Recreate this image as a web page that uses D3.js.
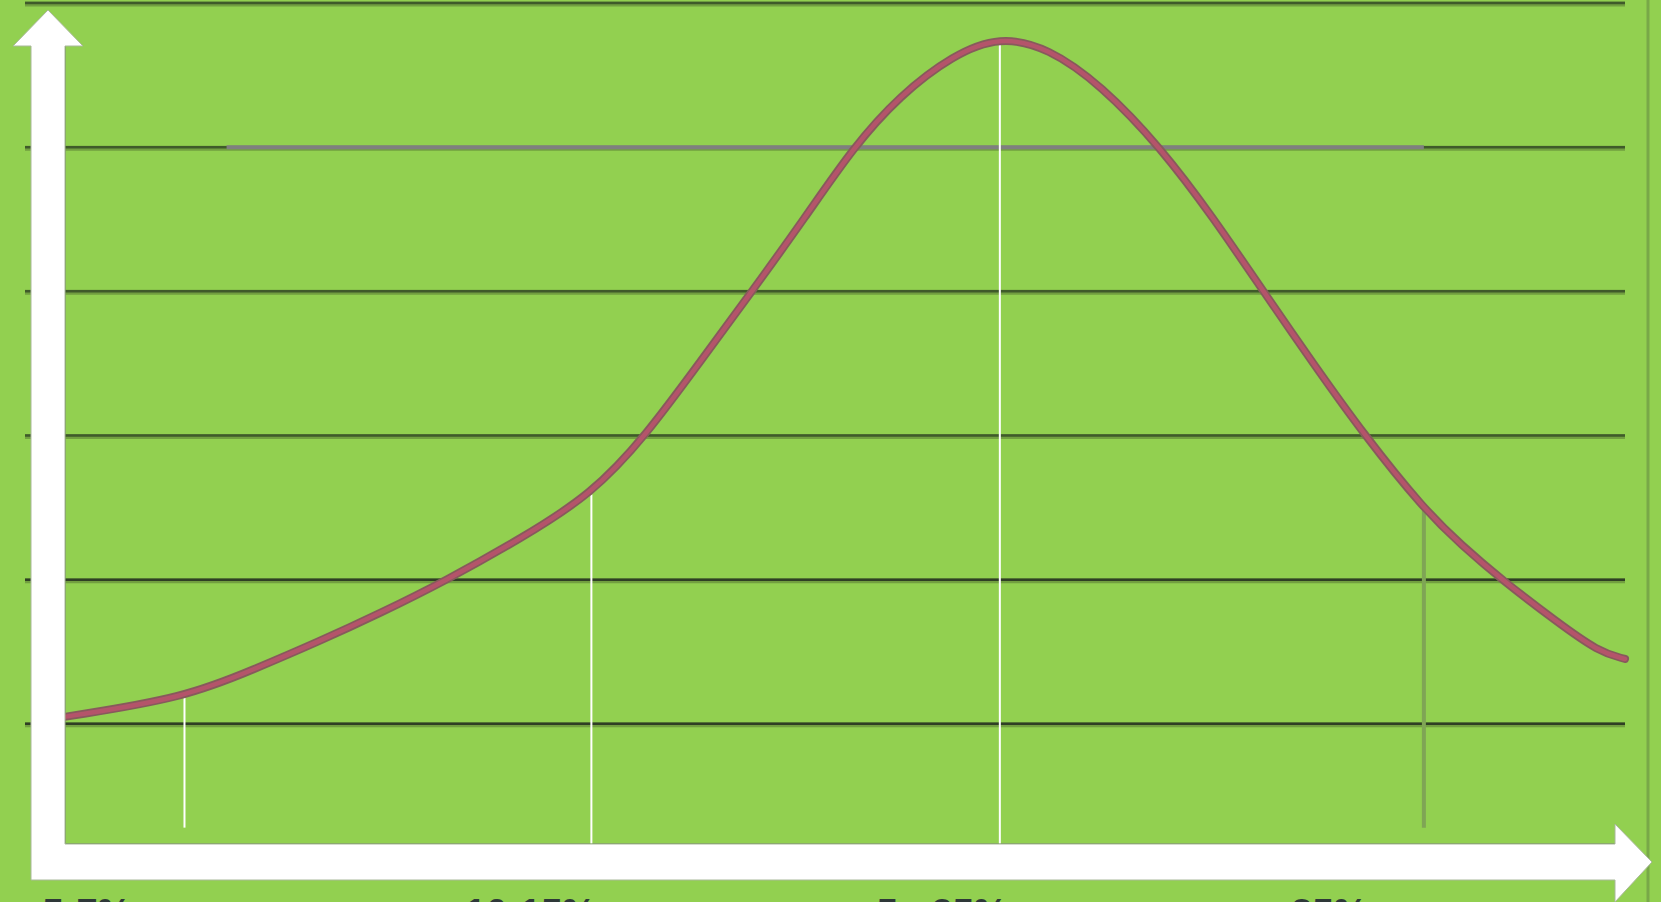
<!DOCTYPE html>
<html lang="es">

<head>
    <meta charset="UTF-8">
    <title>Curva</title>
    <style>
        body { margin: 0; background: #92d050; overflow: hidden; }
    </style>
</head>

<body>
    <div id="graph"></div>
    <script src="https://d3js.org/d3.v7.min.js"></script>

    <script>
        const WIDTH = 1661;
        const HEIGHT = 902;

        // curva (x en 0..100, y en unidades de la cuadrícula)
        const CURVE_X = [0, 7.6, 12.1, 16.2, 20.2, 24.3, 29.1, 33.7, 37.2, 40.6, 44.0, 47.4, 50.5, 53.5, 56.9, 59.9, 63.0, 66.4, 70.2, 73.6, 76.8, 80.0, 83.3, 87.1, 89.5, 92.2, 95.6, 98.3, 100];
        const CURVE_Y = [1.05, 1.18, 1.38, 1.57, 1.77, 1.99, 2.28, 2.59, 3.0, 3.50, 4.0, 4.51, 5.0, 5.36, 5.64, 5.77, 5.69, 5.43, 5.0, 4.51, 4.0, 3.50, 3.0, 2.49, 2.24, 1.99, 1.71, 1.50, 1.45];

        const GRID_VALUES = [1, 2, 3, 4, 5, 6];

        const MARKER_X = [7.6, 33.7, 59.9, 87.1];
        const MARKER_TOP = [1.18, 2.59, 5.72, 2.49];
        const MARKER_BOTTOM = [0.28, 0.17, 0.17, 0.28];

        const LABELS = ["5-7%", "10-15%", "5 - 25%", "35%"];
        const LABEL_X = [-1.5, 25.6, 52.0, 78.6];

        const REF_LINE = { from: 10.3, to: 87.1, y: 5 };

        const xScale = d3.scaleLinear().domain([0, 100]).range([66, 1625]);
        const yScale = d3.scaleLinear().domain([0, 6]).range([868, 3]);

        const svg = d3.select("#graph")
            .append("svg")
            .attr("width", WIDTH)
            .attr("height", HEIGHT);

        svg.append("rect")
            .attr("width", WIDTH).attr("height", HEIGHT)
            .attr("fill", "#92d050");

        // borde del área
        svg.append("line")
            .attr("x1", 1648).attr("x2", 1648).attr("y1", 0).attr("y2", HEIGHT)
            .attr("stroke", "#78a848").attr("stroke-width", 3);
        svg.append("line")
            .attr("x1", 65).attr("x2", 65).attr("y1", 40).attr("y2", 845)
            .attr("stroke", "#6f9a45").attr("stroke-width", 2);
        svg.append("line")
            .attr("x1", 64).attr("x2", 1620).attr("y1", 844).attr("y2", 844)
            .attr("stroke", "#6f9a45").attr("stroke-width", 2);

        // cuadrícula
        const grid = svg.append("g");
        grid.selectAll(".shadow")
            .data(GRID_VALUES).enter().append("line")
            .attr("x1", 25).attr("x2", 1625)
            .attr("y1", d => yScale(d) + 1).attr("y2", d => yScale(d) + 1)
            .attr("stroke", "#5d7f36").attr("stroke-width", 5).attr("opacity", 0.6);
        grid.selectAll(".main")
            .data(GRID_VALUES).enter().append("line")
            .attr("x1", 25).attr("x2", 1625)
            .attr("y1", d => yScale(d)).attr("y2", d => yScale(d))
            .attr("stroke", d => d < 3 ? "#2f3f24" : "#3f5a2a").attr("stroke-width", 2.5);

        // línea gris
        svg.append("line")
            .attr("x1", xScale(REF_LINE.from)).attr("x2", xScale(REF_LINE.to))
            .attr("y1", yScale(REF_LINE.y)).attr("y2", yScale(REF_LINE.y))
            .attr("stroke", "#7f7f7f").attr("stroke-width", 4);

        // marcadores verticales
        svg.selectAll(".marker")
            .data(MARKER_X).enter().append("line")
            .attr("x1", d => xScale(d)).attr("x2", d => xScale(d))
            .attr("y1", (d, i) => yScale(MARKER_TOP[i]))
            .attr("y2", (d, i) => yScale(MARKER_BOTTOM[i]))
            .attr("stroke", (d, i) => i === 3 ? "#7fa555" : "#ffffff")
            .attr("stroke-width", (d, i) => i === 3 ? 4 : 2);

        // curva
        const points = CURVE_X.map((x, i) => [x, CURVE_Y[i]]);
        const line = d3.line()
            .x(d => xScale(d[0]))
            .y(d => yScale(d[1]))
            .curve(d3.curveBasis);

        svg.append("path")
            .attr("d", line(points))
            .attr("fill", "none")
            .attr("stroke", "#875a5c")
            .attr("stroke-width", 8)
            .attr("stroke-linecap", "round");
        svg.append("path")
            .attr("d", line(points))
            .attr("fill", "none")
            .attr("stroke", "#b4546a")
            .attr("stroke-width", 4.5)
            .attr("stroke-linecap", "round");

        // flechas de los ejes
        const arrows = svg.append("g")
            .attr("fill", "#ffffff")
            .attr("stroke", "#a9b89a")
            .attr("stroke-width", 1);

        arrows.append("path")
            .attr("d", "M31,880 L31,46 L13,46 L48,10 L83,46 L65,46 L65,844 L1615,844 L1615,824 L1652,862 L1615,902 L1615,880 Z");

        // etiquetas
        svg.selectAll(".label")
            .data(LABELS).enter().append("text")
            .attr("x", (d, i) => xScale(LABEL_X[i]))
            .attr("y", 926)
            .attr("font-family", "Liberation Sans, Arial, sans-serif")
            .attr("font-size", 38)
            .attr("font-weight", "bold")
            .attr("fill", "#2e3838")
            .text(d => d);
    </script>
</body>

</html>
